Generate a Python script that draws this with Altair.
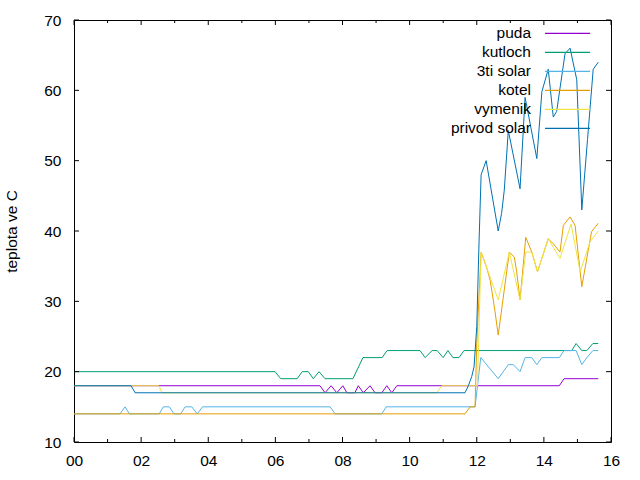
import altair as alt
import pandas as pd

FONT = "Liberation Sans"
FS = 15.5
W, H = 537, 422

series_order = ["puda", "kutloch", "3ti solar", "kotel", "vymenik", "privod solar"]
series_colors = ["#9400d3", "#009e73", "#56b4e9", "#e69f00", "#f0e442", "#0072b2"]

# hours since midnight, temperature in C
puda_t = [0, 7.33, 7.48, 7.66, 7.83, 8.01, 8.13, 8.37, 8.47, 8.62, 8.82, 8.97, 9.17,
          9.32, 9.47, 9.62, 14.46, 14.6, 15.62]
puda_v = [18, 18, 17, 18, 17, 18, 17, 17, 18, 17, 18, 17, 17, 18, 17, 18, 18, 19, 19]

kutloch_t = [0, 5.99, 6.16, 6.65, 6.80, 6.98, 7.13, 7.3, 7.48, 8.31, 8.61, 9.18, 9.33,
             10.31, 10.46, 10.67, 10.82, 11.0, 11.14, 11.29, 11.47, 11.62, 14.83, 14.96,
             15.13, 15.28, 15.46, 15.62]
kutloch_v = [20, 20, 19, 19, 20, 20, 19, 20, 19, 19, 22, 22, 23, 23, 22, 23, 23, 22, 23,
             22, 22, 23, 23, 24, 23, 23, 24, 24]

solar3_t = [0, 1.37, 1.52, 1.65, 2.54, 2.66, 2.84, 2.98, 3.18, 3.31, 3.51, 3.67, 3.83,
            7.63, 7.78, 9.17, 9.30, 11.95, 12.12, 12.64, 12.94, 13.09, 13.29, 13.44,
            13.64, 13.79, 13.94, 14.46, 14.6, 14.96, 15.13, 15.28, 15.46, 15.62]
solar3_v = [14, 14, 15, 14, 14, 15, 15, 14, 14, 15, 15, 14, 15, 15, 14, 14, 15, 15, 22,
            19, 21, 21, 20, 22, 22, 21, 22, 22, 23, 23, 21, 22, 23, 23]

kotel_t = [0, 11.65, 11.8, 11.95, 12.0, 12.13, 12.29, 12.4, 12.54, 12.64, 12.97, 13.12,
           13.19, 13.29, 13.46, 13.64, 13.81, 14.13, 14.28, 14.48, 14.58, 14.78, 14.93,
           15.13, 15.42, 15.62]
kotel_v = [14, 14, 15, 15, 24, 37, 34.9, 33, 28.7, 25.2, 37, 36.3, 34.2, 30.2, 39.1, 37,
           34.2, 38.9, 38.2, 37, 40.8, 42, 40.8, 32.1, 39.9, 41.1]

vymenik_t = [0, 2.53, 2.62, 10.81, 10.96, 12.02, 12.13, 12.64, 12.97, 13.29, 13.46,
             13.64, 13.81, 14.13, 14.48, 14.81, 15.08, 15.37, 15.62]
vymenik_v = [18, 18, 17, 17, 18, 18, 37, 30.2, 37, 30.2, 37, 37, 34.2, 38.9, 36.1, 41,
             34.2, 38.4, 40]

privod_t = [0, 1.70, 1.82, 11.65, 11.75, 11.85, 11.92, 12.0, 12.07, 12.13, 12.28, 12.64,
            12.74, 12.82, 12.94, 13.29, 13.44, 13.79, 13.94, 14.13, 14.28, 14.38, 14.63,
            14.78, 14.98, 15.13, 15.30, 15.47, 15.62]
privod_v = [18, 18, 17, 17, 18, 19.3, 20.7, 26.4, 38.7, 48, 50, 40, 42.5, 45.8, 54.3, 46,
            59, 50.3, 59.8, 63, 56.2, 57, 65.2, 66, 61.5, 43, 53, 63, 64]

y_ticks = [10, 20, 30, 40, 50, 60, 70]
x_ticks = [0, 2, 4, 6, 8, 10, 12, 14, 16]
x_minor = [1, 3, 5, 7, 9, 11, 13, 15]

series_data = [
    ("puda", puda_t, puda_v),
    ("kutloch", kutloch_t, kutloch_v),
    ("3ti solar", solar3_t, solar3_v),
    ("kotel", kotel_t, kotel_v),
    ("vymenik", vymenik_t, vymenik_v),
    ("privod solar", privod_t, privod_v),
]
rows = []
for name, ts, vs in series_data:
    for t, v in zip(ts, vs):
        rows.append({"series": name, "hour": t, "temp": v})
df = pd.DataFrame(rows)

xscale = alt.Scale(domain=[0, 16], nice=False, zero=False)
yscale = alt.Scale(domain=[10, 70], nice=False, zero=False)
cscale = alt.Scale(domain=series_order, range=series_colors)

x_axis = alt.Axis(values=x_ticks, labelExpr="(datum.value < 10 ? '0' : '') + datum.value",
                  ticks=False, domain=False, grid=False, labelPadding=11,
                  labelFlush=False, labelOverlap=False, title=None,
                  labelFont=FONT, labelFontSize=FS, labelColor="black")
y_axis = alt.Axis(values=y_ticks, ticks=False, domain=False, grid=False,
                  labelPadding=13, labelFlush=False, labelOverlap=False,
                  labelFont=FONT, labelFontSize=FS, labelColor="black",
                  title="teplota ve C", titlePadding=24,
                  titleFontWeight="normal", titleFont=FONT, titleFontSize=FS,
                  titleColor="black")

layers = []
for i, name in enumerate(series_order):
    layers.append(
        alt.Chart(df).transform_filter(alt.datum.series == name)
        .mark_line(strokeWidth=1, clip=True)
        .encode(
            x=alt.X("hour:Q", scale=xscale, axis=x_axis if i == 0 else None),
            y=alt.Y("temp:Q", scale=yscale, axis=y_axis if i == 0 else None),
            color=alt.Color("series:N", scale=cscale, legend=None),
        )
    )

ydf = pd.DataFrame({"v": y_ticks})
xdf = pd.DataFrame({"v": x_ticks})
xmdf = pd.DataFrame({"v": x_minor})

layers += [
    alt.Chart(ydf).mark_rule(color="black", strokeWidth=1).encode(
        y=alt.Y("v:Q", scale=yscale, axis=None), x=alt.value(0), x2=alt.value(5)),
    alt.Chart(ydf).mark_rule(color="black", strokeWidth=1).encode(
        y=alt.Y("v:Q", scale=yscale, axis=None), x=alt.value(W - 5), x2=alt.value(W)),
    alt.Chart(xdf).mark_rule(color="black", strokeWidth=1).encode(
        x=alt.X("v:Q", scale=xscale, axis=None), y=alt.value(H), y2=alt.value(H - 5)),
    alt.Chart(xdf).mark_rule(color="black", strokeWidth=1).encode(
        x=alt.X("v:Q", scale=xscale, axis=None), y=alt.value(0), y2=alt.value(5)),
    alt.Chart(xmdf).mark_rule(color="black", strokeWidth=1).encode(
        x=alt.X("v:Q", scale=xscale, axis=None), y=alt.value(H), y2=alt.value(H - 3)),
    alt.Chart(xmdf).mark_rule(color="black", strokeWidth=1).encode(
        x=alt.X("v:Q", scale=xscale, axis=None), y=alt.value(0), y2=alt.value(3)),
]

legend_df = pd.DataFrame({"series": series_order})
leg_y = alt.Y("series:N", axis=None,
              scale=alt.Scale(type="point", domain=series_order, range=[13.3, 108.3], padding=0))
layers.append(alt.Chart(legend_df).mark_rule(strokeWidth=1.2).encode(
    y=leg_y, x=alt.value(471), x2=alt.value(516),
    color=alt.Color("series:N", scale=cscale, legend=None)))
layers.append(alt.Chart(legend_df).mark_text(
    align="right", baseline="middle", font=FONT, fontSize=FS, color="black"
).encode(y=leg_y, x=alt.value(457), text="series:N"))

chart = alt.layer(*layers).resolve_scale(y="independent").resolve_axis(
    x="independent", y="independent"
).properties(
    width=W, height=H,
    autosize=alt.AutoSizeParams(type="none"),
    padding={"left": 74, "top": 20, "right": 29, "bottom": 38},
    background="white",
).configure_view(stroke="black", strokeWidth=1)

chart.save("out.html", embed_options={"renderer": "svg", "actions": False})
